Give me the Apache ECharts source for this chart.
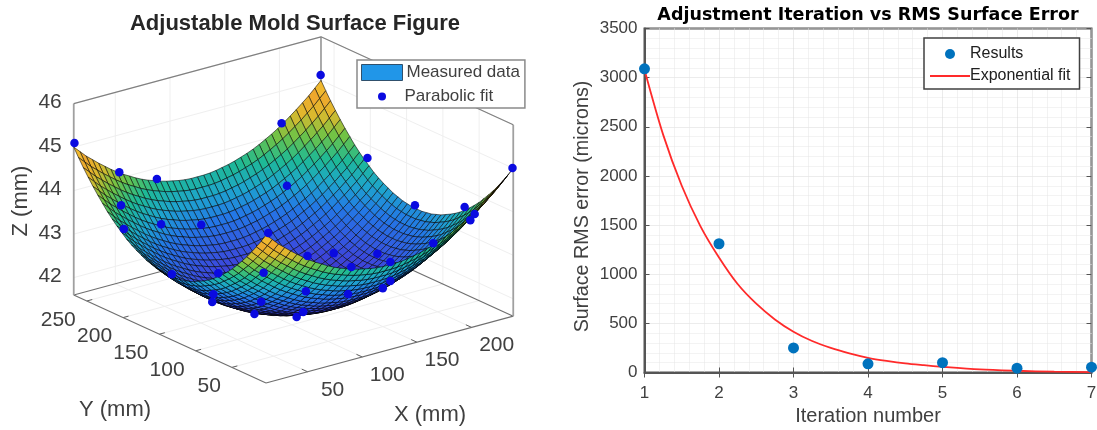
<!DOCTYPE html>
<html>
<head>
<meta charset="utf-8">
<title>Mold surface and RMS error</title>
<script src="https://cdn.jsdelivr.net/npm/echarts@6/dist/echarts.min.js"></script>
<style>
html, body { margin: 0; padding: 0; background: #fff; }
#chart { width: 1097px; height: 430px; }
</style>
</head>
<body>
<div id="chart"></div>
<script>
// right plot
const iteration = [1, 2, 3, 4, 5, 6, 7];
const rms_error = [3090, 1310, 250, 88, 100, 44, 54];
const fit_iteration = [1, 1.25, 1.5, 1.75, 2, 2.25, 2.5, 2.75, 3, 3.25, 3.5, 3.75, 4, 4.25, 4.5, 4.75, 5, 5.5, 6, 6.5, 7];
const fit_error = [3080, 2420, 1900, 1490, 1170, 900, 700, 540, 415, 320, 250, 195, 150, 118, 92, 74, 58, 32, 18, 8, 4];

// left plot, axis ticks
const x_ticks = [50, 100, 150, 200];
const y_ticks = [50, 100, 150, 200, 250];
const z_ticks = [42, 43, 44, 45, 46];

// left plot, mesh nodes (mm)
const mesh_x = [12.0, 17.7, 23.3, 29.0, 34.6, 40.3, 45.9, 51.6, 57.2, 62.9, 68.5, 74.2, 79.8, 85.5, 91.1, 96.8, 102.4, 108.1, 113.7, 119.4, 125.0, 130.7, 136.3, 142.0, 147.6, 153.3, 158.9, 164.6, 170.2, 175.9, 181.5, 187.2, 192.8, 198.5, 204.1, 209.8, 215.4, 221.1, 226.7, 232.4, 238.0];
const mesh_y = [3.0, 9.6, 16.3, 22.9, 29.5, 36.1, 42.8, 49.4, 56.0, 62.6, 69.3, 75.9, 82.5, 89.1, 95.8, 102.4, 109.0, 115.6, 122.3, 128.9, 135.5, 142.1, 148.8, 155.4, 162.0, 168.6, 175.3, 181.9, 188.5, 195.1, 201.8, 208.4, 215.0, 221.6, 228.3, 234.9, 241.5, 248.1, 254.8, 261.4, 268.0];
// height above z = 41.6, in 0.01 mm. one row per mesh_y, one column per mesh_x
const mesh_height = [
[340,326,312,300,288,277,266,256,247,239,231,224,218,213,208,204,201,198,196,195,195,195,196,198,201,204,208,213,218,224,231,239,247,256,266,277,288,300,312,326,340],
[321,307,293,281,269,258,247,237,228,220,212,205,199,194,189,185,182,179,177,176,176,176,177,179,182,185,189,194,199,205,212,220,228,237,247,258,269,281,293,307,321],
[303,289,275,263,251,240,229,219,210,202,194,187,181,176,171,167,164,161,159,158,158,158,159,161,164,167,171,176,181,187,194,202,210,219,229,240,251,263,275,289,303],
[286,272,258,246,234,223,212,202,193,185,177,170,164,159,154,150,147,144,142,141,141,141,142,144,147,150,154,159,164,170,177,185,193,202,212,223,234,246,258,272,286],
[270,256,242,230,218,207,196,186,177,169,161,154,148,143,138,134,131,128,126,125,125,125,126,128,131,134,138,143,148,154,161,169,177,186,196,207,218,230,242,256,270],
[255,241,227,215,203,192,181,171,162,154,146,139,133,128,123,119,116,113,111,110,110,110,111,113,116,119,123,128,133,139,146,154,162,171,181,192,203,215,227,241,255],
[241,227,213,201,189,178,167,157,148,140,132,125,119,114,109,105,102,99,97,96,96,96,97,99,102,105,109,114,119,125,132,140,148,157,167,178,189,201,213,227,241],
[227,213,199,187,175,164,153,143,134,126,118,111,105,100,95,91,88,85,83,82,82,82,83,85,88,91,95,100,105,111,118,126,134,143,153,164,175,187,199,213,227],
[215,201,187,175,163,152,141,131,122,114,106,99,93,88,83,79,76,73,71,70,70,70,71,73,76,79,83,88,93,99,106,114,122,131,141,152,163,175,187,201,215],
[204,190,176,164,152,141,130,120,111,103,95,88,82,77,72,68,65,62,60,59,59,59,60,62,65,68,72,77,82,88,95,103,111,120,130,141,152,164,176,190,204],
[194,180,166,154,142,131,120,110,101,93,85,78,72,67,62,58,55,52,50,49,49,49,50,52,55,58,62,67,72,78,85,93,101,110,120,131,142,154,166,180,194],
[184,170,156,144,132,121,110,100,91,83,75,68,62,57,52,48,45,42,40,39,39,39,40,42,45,48,52,57,62,68,75,83,91,100,110,121,132,144,156,170,184],
[176,162,148,136,124,113,102,92,83,75,67,60,54,49,44,40,37,34,32,31,31,31,32,34,37,40,44,49,54,60,67,75,83,92,102,113,124,136,148,162,176],
[169,155,141,129,117,106,95,85,76,68,60,53,47,42,37,33,30,27,25,24,24,24,25,27,30,33,37,42,47,53,60,68,76,85,95,106,117,129,141,155,169],
[163,149,135,123,111,100,89,79,70,62,54,47,41,36,31,27,24,21,19,18,18,18,19,21,24,27,31,36,41,47,54,62,70,79,89,100,111,123,135,149,163],
[157,143,129,117,105,94,83,73,64,56,48,41,35,30,25,21,18,15,13,12,12,12,13,15,18,21,25,30,35,41,48,56,64,73,83,94,105,117,129,143,157],
[153,139,125,113,101,90,79,69,60,52,44,37,31,26,21,17,14,11,9,8,8,8,9,11,14,17,21,26,31,37,44,52,60,69,79,90,101,113,125,139,153],
[149,135,121,109,97,86,75,65,56,48,40,33,27,22,17,13,10,7,5,4,4,4,5,7,10,13,17,22,27,33,40,48,56,65,75,86,97,109,121,135,149],
[147,133,119,107,95,84,73,63,54,46,38,31,25,20,15,11,8,5,3,2,2,2,3,5,8,11,15,20,25,31,38,46,54,63,73,84,95,107,119,133,147],
[145,131,117,105,93,82,71,61,52,44,36,29,23,18,13,9,6,3,1,0,0,0,1,3,6,9,13,18,23,29,36,44,52,61,71,82,93,105,117,131,145],
[145,131,117,105,93,82,71,61,52,44,36,29,23,18,13,9,6,3,1,0,0,0,1,3,6,9,13,18,23,29,36,44,52,61,71,82,93,105,117,131,145],
[145,131,117,105,93,82,71,61,52,44,36,29,23,18,13,9,6,3,1,0,0,0,1,3,6,9,13,18,23,29,36,44,52,61,71,82,93,105,117,131,145],
[147,133,119,107,95,84,73,63,54,46,38,31,25,20,15,11,8,5,3,2,2,2,3,5,8,11,15,20,25,31,38,46,54,63,73,84,95,107,119,133,147],
[149,135,121,109,97,86,75,65,56,48,40,33,27,22,17,13,10,7,5,4,4,4,5,7,10,13,17,22,27,33,40,48,56,65,75,86,97,109,121,135,149],
[153,139,125,113,101,90,79,69,60,52,44,37,31,26,21,17,14,11,9,8,8,8,9,11,14,17,21,26,31,37,44,52,60,69,79,90,101,113,125,139,153],
[157,143,129,117,105,94,83,73,64,56,48,41,35,30,25,21,18,15,13,12,12,12,13,15,18,21,25,30,35,41,48,56,64,73,83,94,105,117,129,143,157],
[163,149,135,123,111,100,89,79,70,62,54,47,41,36,31,27,24,21,19,18,18,18,19,21,24,27,31,36,41,47,54,62,70,79,89,100,111,123,135,149,163],
[169,155,141,129,117,106,95,85,76,68,60,53,47,42,37,33,30,27,25,24,24,24,25,27,30,33,37,42,47,53,60,68,76,85,95,106,117,129,141,155,169],
[176,162,148,136,124,113,102,92,83,75,67,60,54,49,44,40,37,34,32,31,31,31,32,34,37,40,44,49,54,60,67,75,83,92,102,113,124,136,148,162,176],
[184,170,156,144,132,121,110,100,91,83,75,68,62,57,52,48,45,42,40,39,39,39,40,42,45,48,52,57,62,68,75,83,91,100,110,121,132,144,156,170,184],
[194,180,166,154,142,131,120,110,101,93,85,78,72,67,62,58,55,52,50,49,49,49,50,52,55,58,62,67,72,78,85,93,101,110,120,131,142,154,166,180,194],
[204,190,176,164,152,141,130,120,111,103,95,88,82,77,72,68,65,62,60,59,59,59,60,62,65,68,72,77,82,88,95,103,111,120,130,141,152,164,176,190,204],
[215,201,187,175,163,152,141,131,122,114,106,99,93,88,83,79,76,73,71,70,70,70,71,73,76,79,83,88,93,99,106,114,122,131,141,152,163,175,187,201,215],
[227,213,199,187,175,164,153,143,134,126,118,111,105,100,95,91,88,85,83,82,82,82,83,85,88,91,95,100,105,111,118,126,134,143,153,164,175,187,199,213,227],
[241,227,213,201,189,178,167,157,148,140,132,125,119,114,109,105,102,99,97,96,96,96,97,99,102,105,109,114,119,125,132,140,148,157,167,178,189,201,213,227,241],
[255,241,227,215,203,192,181,171,162,154,146,139,133,128,123,119,116,113,111,110,110,110,111,113,116,119,123,128,133,139,146,154,162,171,181,192,203,215,227,241,255],
[270,256,242,230,218,207,196,186,177,169,161,154,148,143,138,134,131,128,126,125,125,125,126,128,131,134,138,143,148,154,161,169,177,186,196,207,218,230,242,256,270],
[286,272,258,246,234,223,212,202,193,185,177,170,164,159,154,150,147,144,142,141,141,141,142,144,147,150,154,159,164,170,177,185,193,202,212,223,234,246,258,272,286],
[303,289,275,263,251,240,229,219,210,202,194,187,181,176,171,167,164,161,159,158,158,158,159,161,164,167,171,176,181,187,194,202,210,219,229,240,251,263,275,289,303],
[321,307,293,281,269,258,247,237,228,220,212,205,199,194,189,185,182,179,177,176,176,176,177,179,182,185,189,194,199,205,212,220,228,237,247,258,269,281,293,307,321],
[340,326,312,300,288,277,266,256,247,239,231,224,218,213,208,204,201,198,196,195,195,195,196,198,201,204,208,213,218,224,231,239,247,256,266,277,288,300,312,326,340]
];

// left plot, parabolic fit points
const fit_x = [12, 45, 88, 36, 20, 72, 108, 30, 95, 66, 61, 81, 62, 37, 16, 107, 109, 71, 89, 138, 135, 129, 92, 184, 168, 200, 210, 222, 224, 238, 239, 238, 238, 239, 202, 187];
const fit_y = [267, 255, 268, 239, 211, 238, 237, 160, 194, 157, 151, 123, 85, 44, 6, 104, 98, 37, 6, 32, 17, 8, 6, 169, 181, 133, 71, 38, 35, 70, 140, 4, 204, 270, 268, 238];
const fit_z = [45.1, 44.3, 43.75, 43.72, 43.5, 43.05, 42.8, 42.78, 42.1, 42.1, 42, 41.8, 42.5, 43.65, 45, 41.7, 41.85, 43.05, 43.1, 42.7, 43, 43.55, 43.7, 42.15, 42.1, 42.3, 42.95, 43.65, 43.8, 43.6, 43.1, 45, 43.7, 45.1, 44.26, 43.15];

const box = { x0: 12, x1: 238, y0: 3, y1: 268, z0: 41.6, z1: 46 };
const text_color = "#404040";
const sans = "Liberation Sans";

// orthographic view of the box, result is in the hidden axes of the left grid
const project = function (x, y, z) {
    return [
        266 + 1.094 * (x - box.x0) - 0.7255 * (y - box.y0),
        383 - 0.2956 * (x - box.x0) - 0.332 * (y - box.y0) - 43.5 * (z - box.z0),
    ];
};

const color_stops = [
    [41.6, [60, 40, 170]],
    [42.1, [60, 70, 220]],
    [42.8, [35, 120, 230]],
    [43.2, [30, 165, 205]],
    [43.6, [30, 185, 150]],
    [44.0, [110, 195, 70]],
    [44.4, [225, 185, 45]],
    [44.75, [240, 165, 45]],
    [45.0, [240, 220, 48]],
];

const height_color = function (z) {
    for (let k = 1; k < color_stops.length; k++) {
        if (z <= color_stops[k][0]) {
            const a = color_stops[k - 1];
            const b = color_stops[k];
            const t = Math.max(0, (z - a[0]) / (b[0] - a[0]));
            const c = a[1].map((v, n) => Math.round(v + (b[1][n] - v) * t));
            return "rgb(" + c.join(",") + ")";
        }
    }
    return "rgb(240,220,48)";
};

const node_point = function (api, i, j) {
    return api.coord(project(mesh_x[i], mesh_y[j], box.z0 + mesh_height[j][i] / 100));
};

// back to front, so the near wall of the bowl covers the inside
const mesh_cells = [];
for (let j = mesh_y.length - 2; j >= 0; j--) {
    for (let i = mesh_x.length - 2; i >= 0; i--) {
        mesh_cells.push([i, j]);
    }
}

const render_cell = function (params, api) {
    const i = api.value(0);
    const j = api.value(1);
    const mean = (mesh_height[j][i] + mesh_height[j][i + 1] + mesh_height[j + 1][i] + mesh_height[j + 1][i + 1]) / 400;
    return {
        type: "polygon",
        shape: { points: [node_point(api, i, j), node_point(api, i + 1, j), node_point(api, i + 1, j + 1), node_point(api, i, j + 1)] },
        style: { fill: height_color(box.z0 + mean), stroke: "rgba(0,0,0,0.78)", lineWidth: 0.7 },
    };
};

// [x1, y1, z1, x2, y2, z2, color, width]
const box_lines = [];
const add_line = function (a, b, color, width) {
    box_lines.push([a[0], a[1], a[2], b[0], b[1], b[2], color, width]);
};
const grid_color = "#efefef";
x_ticks.forEach((x) => {
    add_line([x, box.y1, box.z0], [x, box.y1, box.z1], grid_color, 1);
    add_line([x, box.y0, box.z0], [x, box.y1, box.z0], grid_color, 1);
    add_line([x, box.y0, box.z0], [x, box.y0 + 8, box.z0], "#606060", 1);
});
y_ticks.forEach((y) => {
    add_line([box.x1, y, box.z0], [box.x1, y, box.z1], grid_color, 1);
    add_line([box.x0, y, box.z0], [box.x1, y, box.z0], grid_color, 1);
    add_line([box.x0, y, box.z0], [box.x0 + 5, y, box.z0], "#606060", 1);
});
z_ticks.forEach((z) => {
    add_line([box.x0, box.y1, z], [box.x1, box.y1, z], grid_color, 1);
    add_line([box.x1, box.y0, z], [box.x1, box.y1, z], grid_color, 1);
});
add_line([box.x0, box.y1, box.z0], [box.x1, box.y1, box.z0], "#707070", 1.2);
add_line([box.x1, box.y1, box.z0], [box.x1, box.y0, box.z0], "#707070", 1.2);
add_line([box.x0, box.y1, box.z0], [box.x0, box.y0, box.z0], "#707070", 1.2);
add_line([box.x0, box.y0, box.z0], [box.x1, box.y0, box.z0], "#707070", 1.2);
add_line([box.x0, box.y1, box.z0], [box.x0, box.y1, box.z1], "#a0a0a0", 1.8);
add_line([box.x1, box.y1, box.z0], [box.x1, box.y1, box.z1], "#a0a0a0", 1.8);
add_line([box.x1, box.y0, box.z0], [box.x1, box.y0, box.z1], "#a0a0a0", 1.8);
add_line([box.x0, box.y1, box.z1], [box.x1, box.y1, box.z1], "#808080", 1.2);
add_line([box.x1, box.y1, box.z1], [box.x1, box.y0, box.z1], "#808080", 1.2);

const render_box_line = function (params, api) {
    const row = box_lines[params.dataIndex];
    const a = api.coord(project(row[0], row[1], row[2]));
    const b = api.coord(project(row[3], row[4], row[5]));
    return {
        type: "line",
        shape: { x1: a[0], y1: a[1], x2: b[0], y2: b[1] },
        style: { stroke: row[6], lineWidth: row[7] },
    };
};

// [x, y, z, text, dx, dy, align]
const axis_labels = [];
x_ticks.forEach((x) => axis_labels.push([x, box.y0, box.z0, String(x), 25, 18, "center"]));
y_ticks.forEach((y) => axis_labels.push([box.x0, y, box.z0, String(y), -11, 19, "right"]));
z_ticks.forEach((z) => axis_labels.push([box.x0, box.y1, z, String(z), -12, -1, "right"]));

const render_axis_label = function (params, api) {
    const row = axis_labels[params.dataIndex];
    const p = api.coord(project(row[0], row[1], row[2]));
    return {
        type: "text",
        x: p[0] + row[4],
        y: p[1] + row[5],
        style: { text: row[3], fill: text_color, font: "21px " + sans, textAlign: row[6], textVerticalAlign: "middle" },
    };
};

const option = {
    backgroundColor: "#fff",
    animation: false,
    textStyle: { fontFamily: sans },
    title: [
        {
            text: "Adjustable Mold Surface Figure",
            left: 290,
            top: 8,
            textAlign: "center",
            textStyle: { fontSize: 22, fontWeight: "bold", color: "#262626", fontFamily: sans },
        },
        {
            text: "Adjustment Iteration vs RMS Surface Error",
            left: 863,
            top: 1,
            textAlign: "center",
            textStyle: { fontSize: 17.5, fontWeight: "bold", color: "#000", fontFamily: "DejaVu Sans" },
        },
    ],
    legend: [
        {
            data: [{ name: "Measured data", icon: "rect", itemStyle: { color: "#2196e8", borderColor: "#30506c", borderWidth: 1 } }],
            left: 357,
            top: 60,
            padding: [4, 5, 27, 4],
            itemWidth: 41,
            itemHeight: 16,
            backgroundColor: "#fff",
            borderColor: "#8a8a8a",
            borderWidth: 1.5,
            itemGap: 4,
            textStyle: { fontSize: 17, color: text_color, fontFamily: sans, padding: [0, 0, 0, -1] },
        },
        {
            data: [{ name: "Parabolic fit", icon: "circle" }],
            left: 378,
            top: 88,
            padding: 0,
            itemWidth: 41,
            itemHeight: 8,
            textStyle: { fontSize: 17, color: text_color, fontFamily: sans, padding: [0, 0, 0, -3] },
        },
        {
            data: [{ name: "Results", icon: "circle" }, { name: "Exponential fit", icon: "path://M0 0H40V2H0Z" }],
            left: 924,
            top: 38,
            orient: "vertical",
            padding: [8, 9, 5, 6],
            itemWidth: 40,
            itemHeight: 10,
            itemGap: 6,
            backgroundColor: "#fff",
            borderColor: "#404040",
            borderWidth: 1.5,
            textStyle: { fontSize: 16, color: "#202020", fontFamily: sans, padding: [0, 0, 0, -5] },
        },
    ],
    grid: [
        { left: 0, top: 0, width: 550, height: 430, outerBoundsMode: "none" },
        { left: 644.5, top: 28.5, width: 447, height: 344, outerBoundsMode: "none", show: true, borderColor: "#555", borderWidth: 2, backgroundColor: "#fff" },
    ],
    xAxis: [
        { gridIndex: 0, type: "value", min: 0, max: 550, show: false },
        {
            gridIndex: 1,
            type: "value",
            min: 1,
            max: 7,
            interval: 1,
            name: "Iteration number",
            nameLocation: "middle",
            nameGap: 32,
            nameTextStyle: { fontSize: 20, color: text_color, fontFamily: sans },
            axisLine: { onZero: false, lineStyle: { color: "#555", width: 2 } },
            axisTick: { inside: true, length: 5, lineStyle: { color: "#555" } },
            axisLabel: { fontSize: 17, color: text_color, margin: 12, fontFamily: sans, showMinLabel: true, showMaxLabel: true },
            splitLine: { show: true, lineStyle: { color: "#d8d8d8", type: "dotted" } },
            minorTick: { show: false, splitNumber: 5 },
            minorSplitLine: { show: true, lineStyle: { color: "#e6e6e6", type: "dotted" } },
        },
        {
            gridIndex: 1,
            type: "value",
            position: "top",
            min: 1,
            max: 7,
            interval: 1,
            axisLine: { show: false },
            axisTick: { inside: true, length: 5, lineStyle: { color: "#555" } },
            axisLabel: { show: false },
            splitLine: { show: false },
        },
    ],
    yAxis: [
        { gridIndex: 0, type: "value", min: 0, max: 430, inverse: true, show: false },
        {
            gridIndex: 1,
            type: "value",
            min: 0,
            max: 3500,
            interval: 500,
            name: "Surface RMS error (microns)",
            nameLocation: "middle",
            nameRotate: 90,
            nameGap: 52,
            nameTextStyle: { fontSize: 19.7, color: text_color, fontFamily: sans, padding: [0, 12, 0, 0] },
            axisLine: { show: true, onZero: false, lineStyle: { color: "#555", width: 2 } },
            axisTick: { show: true, inside: true, length: 5, lineStyle: { color: "#555" } },
            axisLabel: { fontSize: 17, color: text_color, margin: 7, fontFamily: sans, formatter: (value) => String(value) },
            splitLine: { show: true, lineStyle: { color: "#d8d8d8", type: "dotted" } },
            minorTick: { show: false, splitNumber: 5 },
            minorSplitLine: { show: true, lineStyle: { color: "#e6e6e6", type: "dotted" } },
        },
        {
            gridIndex: 1,
            type: "value",
            position: "right",
            min: 0,
            max: 3500,
            interval: 500,
            axisLine: { show: false },
            axisTick: { show: true, inside: true, length: 5, lineStyle: { color: "#555" } },
            axisLabel: { show: false },
            splitLine: { show: false },
        },
    ],
    series: [
        {
            type: "custom",
            xAxisIndex: 0,
            yAxisIndex: 0,
            clip: false,
            silent: true,
            z: 1,
            data: box_lines.map((row, n) => [n, 0]),
            renderItem: render_box_line,
        },
        {
            type: "custom",
            xAxisIndex: 0,
            yAxisIndex: 0,
            clip: false,
            silent: true,
            z: 1,
            data: axis_labels.map((row, n) => [n, 0]),
            renderItem: render_axis_label,
        },
        {
            name: "Measured data",
            type: "custom",
            xAxisIndex: 0,
            yAxisIndex: 0,
            clip: false,
            silent: true,
            progressive: 0,
            z: 2,
            itemStyle: { color: "#2196e8" },
            data: mesh_cells,
            renderItem: render_cell,
        },
        {
            name: "Parabolic fit",
            type: "scatter",
            xAxisIndex: 0,
            yAxisIndex: 0,
            symbolSize: 8.5,
            z: 3,
            itemStyle: { color: "#0a0ae0", opacity: 1 },
            data: fit_x.map((x, n) => project(x, fit_y[n], fit_z[n])),
        },
        {
            name: "Exponential fit",
            type: "line",
            xAxisIndex: 1,
            yAxisIndex: 1,
            showSymbol: false,
            symbol: "none",
            smooth: 0.3,
            z: 3,
            clip: false,
            itemStyle: { color: "#ff2a2a" },
            lineStyle: { color: "#ff2a2a", width: 1.8 },
            data: fit_iteration.map((x, n) => [x, fit_error[n]]),
        },
        {
            name: "Results",
            type: "scatter",
            xAxisIndex: 1,
            yAxisIndex: 1,
            symbolSize: 11,
            clip: false,
            z: 4,
            itemStyle: { color: "#0072bd", opacity: 1 },
            data: iteration.map((x, n) => [x, rms_error[n]]),
        },
    ],
    graphic: [
        {
            type: "text",
            x: 430,
            y: 415,
            style: { text: "X (mm)", fill: text_color, font: "22px " + sans, textAlign: "center", textVerticalAlign: "middle" },
        },
        {
            type: "text",
            x: 115,
            y: 410,
            style: { text: "Y (mm)", fill: text_color, font: "22px " + sans, textAlign: "center", textVerticalAlign: "middle" },
        },
        {
            type: "text",
            x: 21,
            y: 201,
            rotation: Math.PI / 2,
            style: { text: "Z (mm)", fill: text_color, font: "22px " + sans, textAlign: "center", textVerticalAlign: "middle" },
        },
    ],
};

const chart = echarts.init(document.getElementById("chart"));
chart.setOption(option);
</script>
</body>
</html>
